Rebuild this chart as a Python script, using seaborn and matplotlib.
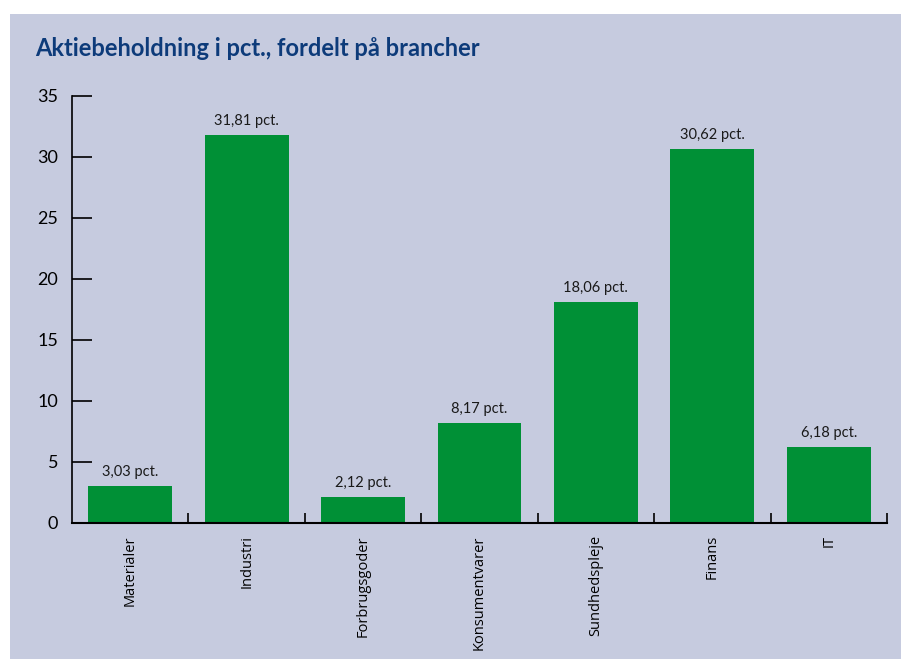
import matplotlib
matplotlib.use("Agg")
import matplotlib.pyplot as plt
import seaborn as sns
import pandas as pd
from matplotlib.ticker import FixedLocator

# Sector allocation of the equity holdings (percent)
categories = ["Materialer", "Industri", "Forbrugsgoder", "Konsumentvarer",
              "Sundhedspleje", "Finans", "IT"]
values = [3.03, 31.81, 2.12, 8.17, 18.06, 30.62, 6.18]
y_ticks = [0, 5, 10, 15, 20, 25, 30, 35]

BG = "#c6cbdf"
GREEN = "#009036"
TITLE = "#0d3b7a"

df = pd.DataFrame({"branche": categories, "pct": values})

sns.set_theme(style="white")
plt.rcParams["font.family"] = ["Lato", "DejaVu Sans"]

fig = plt.figure(figsize=(9.01, 6.59), dpi=100)
fig.patch.set_facecolor("white")
# coloured panel behind the chart, leaving a thin white margin top-left
fig.patches.append(plt.Rectangle((10 / 901, 0), 1, 1 - 14 / 659,
                                 transform=fig.transFigure,
                                 facecolor=BG, edgecolor="none", zorder=-10))

ax = fig.add_axes([72 / 901, 1 - 522.7 / 659, (887 - 72) / 901, (522.7 - 95.7) / 659])
ax.set_facecolor("none")

sns.barplot(data=df, x="branche", y="pct", color=GREEN, saturation=1,
            width=0.72, linewidth=0, edgecolor="none", ax=ax)

for i, v in enumerate(values):
    ax.annotate(f"{v:.2f}".replace(".", ",") + " pct.", (i, v),
                xytext=(0, 5), textcoords="offset points",
                ha="center", va="bottom", fontsize=10.5, color="#1a1a1a")

ax.set_xlim(-0.5, len(categories) - 0.5)
ax.set_ylim(0, 35)
ax.set_xlabel("")
ax.set_ylabel("")

for s in ["top", "right"]:
    ax.spines[s].set_visible(False)
ax.spines["left"].set_color("black")
ax.spines["left"].set_linewidth(1.2)
ax.spines["bottom"].set_color("black")
ax.spines["bottom"].set_linewidth(1.5)

ax.set_yticks(y_ticks)
ax.set_yticklabels([str(t) for t in y_ticks])
ax.tick_params(axis="y", left=True, direction="in", length=14.5, width=1.2,
               pad=10, labelsize=13, colors="black")
ax.yaxis.get_major_ticks()[-1].tick1line.set_linewidth(2.6)

ax.set_xticks(range(len(categories)))
ax.set_xticklabels(categories, rotation=90, va="top")
for lbl in ax.get_xticklabels():
    lbl.set_fontsize(10.5)
    lbl.set_family(["Open Sans", "DejaVu Sans"])
ax.tick_params(axis="x", which="major", length=0, pad=9, colors="black")
ax.xaxis.set_minor_locator(FixedLocator([i + 0.5 for i in range(len(categories))]))
ax.tick_params(axis="x", which="minor", bottom=True, direction="in",
               length=7.5, width=1.2, color="black")

fig.text(35 / 901, 1 - 48 / 659, "Aktiebeholdning i pct., fordelt på brancher",
         fontsize=17, fontweight="bold", color=TITLE, va="center", ha="left")

fig.savefig("out.png", dpi=100, facecolor=fig.get_facecolor())
